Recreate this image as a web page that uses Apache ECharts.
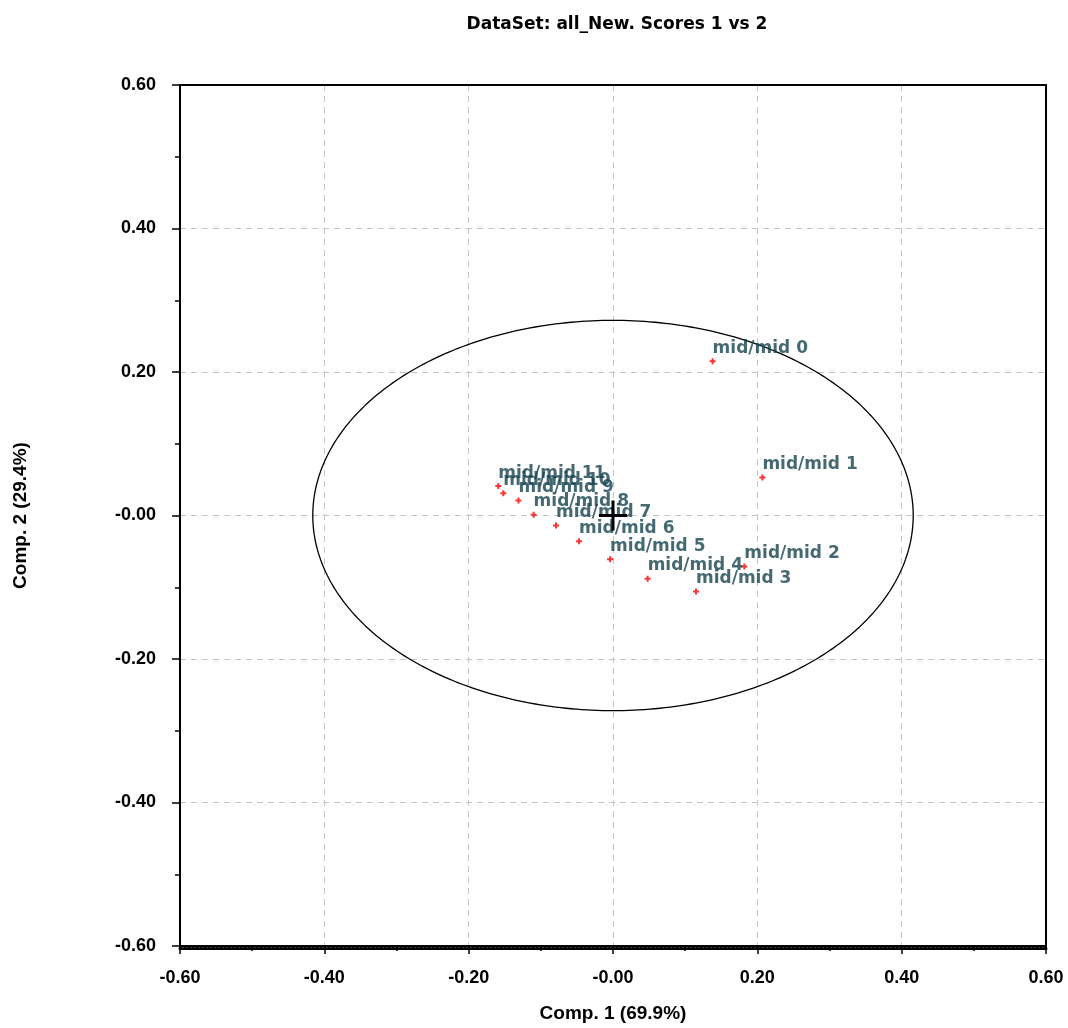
<!DOCTYPE html>
<html>
<head>
<meta charset="utf-8">
<script src="https://cdn.jsdelivr.net/npm/echarts@6/dist/echarts.min.js"></script>
<style>
html,body{margin:0;padding:0;background:#fff;}
#chart{width:1068px;height:1028px;}
</style>
</head>
<body>
<div id="chart"></div>
<script>
// ---- data ----
var sampleNames = ['mid/mid 0','mid/mid 1','mid/mid 2','mid/mid 3','mid/mid 4','mid/mid 5','mid/mid 6','mid/mid 7','mid/mid 8','mid/mid 9','mid/mid 10','mid/mid 11'];
var comp1 = [0.138, 0.207, 0.182, 0.115, 0.048, -0.004, -0.047, -0.079, -0.110, -0.131, -0.152, -0.159];
var comp2 = [0.215, 0.053, -0.071, -0.106, -0.088, -0.061, -0.036, -0.014, 0.001, 0.021, 0.031, 0.041];
var tickValues = [-0.6, -0.4, -0.2, 0, 0.2, 0.4, 0.6];
var tickLabels = ['-0.60', '-0.40', '-0.20', '-0.00', '0.20', '0.40', '0.60'];
var ellipseCenter = [0, 0];
var ellipseRadii = [0.416, 0.272];
var centerMark = [0, 0];
var titleText = 'DataSet: all_New. Scores 1 vs 2';
var xName = 'Comp. 1 (69.9%)';
var yName = 'Comp. 2 (29.4%)';

function tickFmt(v) {
  for (var i = 0; i < tickValues.length; i++) {
    if (Math.abs(tickValues[i] - v) < 1e-9) return tickLabels[i];
  }
  return '';
}

var pointData = sampleNames.map(function (n, i) {
  return { name: n, value: [comp1[i], comp2[i]] };
});

var chart = echarts.init(document.getElementById('chart'), null, { renderer: 'canvas' });

var axisLabelStyle = { fontFamily: 'Liberation Sans, Arial, sans-serif', fontWeight: 'bold', fontSize: 18, color: '#000' };
var nameStyle = { fontFamily: 'Liberation Sans, Arial, sans-serif', fontWeight: 'bold', fontSize: 19, color: '#000' };
var gridLine = { show: true, lineStyle: { color: '#c4c4c4', type: [6, 5], width: 1 } };

function borderAxis(pos, extra) {
  var a = {
    type: 'value', min: -0.6, max: 0.6, interval: 0.2, position: pos,
    axisLine: { show: true, onZero: false, lineStyle: { color: '#000', width: 2 } },
    axisTick: { show: false }, axisLabel: { show: false }, splitLine: { show: false }
  };
  for (var k in extra) a[k] = extra[k];
  return a;
}

var option = {
  backgroundColor: '#fff',
  animation: false,
  title: {
    text: titleText, left: 612, top: 11, textAlign: 'center',
    textStyle: { fontFamily: 'DejaVu Sans, sans-serif', fontWeight: 'bold', fontSize: 17, color: '#000' }
  },
  grid: { left: 180, right: 22, top: 85, bottom: 77, containLabel: false },
  xAxis: [
    {
      type: 'value', min: -0.6, max: 0.6, interval: 0.2, position: 'bottom',
      name: xName, nameLocation: 'middle', nameGap: 58, nameTextStyle: nameStyle,
      axisLine: { show: true, onZero: false, lineStyle: { color: '#000', width: 2 } },
      axisTick: { show: true, length: 8, lineStyle: { color: '#000', width: 1.5 } },
      minorTick: { show: true, splitNumber: 2, length: 5, lineStyle: { color: '#000', width: 1.5 } },
      axisLabel: Object.assign({ margin: 23, formatter: tickFmt }, axisLabelStyle),
      splitLine: gridLine
    },
    borderAxis('top', {}),
    borderAxis('bottom', { offset: 2, axisLine: { show: true, onZero: false, lineStyle: { color: '#000', width: 3, type: [2, 2] } } })
  ],
  yAxis: [
    {
      type: 'value', min: -0.6, max: 0.6, interval: 0.2, position: 'left',
      name: yName, nameLocation: 'middle', nameGap: 150, nameRotate: 90, nameTextStyle: nameStyle,
      axisLine: { show: true, onZero: false, lineStyle: { color: '#000', width: 2 } },
      axisTick: { show: true, length: 8, lineStyle: { color: '#000', width: 1.5 } },
      minorTick: { show: true, splitNumber: 2, length: 5, lineStyle: { color: '#000', width: 1.5 } },
      axisLabel: Object.assign({ margin: 24, formatter: tickFmt }, axisLabelStyle),
      splitLine: gridLine
    },
    borderAxis('right', {})
  ],
  series: [
    {
      type: 'custom',
      xAxisIndex: 0, yAxisIndex: 0,
      silent: true,
      data: [[ellipseCenter[0], ellipseCenter[1], ellipseRadii[0], ellipseRadii[1]]],
      renderItem: function (params, api) {
        var cx = api.value(0), cy = api.value(1), rx = api.value(2), ry = api.value(3);
        var pts = [];
        for (var k = 0; k <= 360; k++) {
          var t = k * Math.PI / 180;
          pts.push(api.coord([cx + rx * Math.cos(t), cy + ry * Math.sin(t)]));
        }
        return { type: 'polyline', shape: { points: pts }, style: { stroke: '#000', lineWidth: 1.3, fill: null } };
      },
      z: 3
    },
    {
      type: 'custom',
      xAxisIndex: 0, yAxisIndex: 0,
      silent: true,
      data: [centerMark],
      renderItem: function (params, api) {
        var p = api.coord([api.value(0), api.value(1)]);
        return {
          type: 'group',
          children: [
            { type: 'line', shape: { x1: p[0] - 14, y1: p[1], x2: p[0] + 14, y2: p[1] }, style: { stroke: '#000', lineWidth: 3 } },
            { type: 'line', shape: { x1: p[0], y1: p[1] - 15, x2: p[0], y2: p[1] + 15 }, style: { stroke: '#000', lineWidth: 3 } }
          ]
        };
      },
      z: 6
    },
    {
      type: 'scatter',
      xAxisIndex: 0, yAxisIndex: 0,
      data: pointData,
      symbol: 'path://M2,0H4V2H6V4H4V6H2V4H0V2H2Z',
      symbolSize: 6,
      itemStyle: { color: '#ff0000' },
      label: {
        show: true,
        formatter: function (p) { return p.name; },
        position: [3, -10],
        align: 'left',
        verticalAlign: 'middle',
        fontFamily: 'DejaVu Sans, sans-serif',
        fontWeight: 'bold',
        fontSize: 17,
        color: '#17434f'
      },
      z: 5
    }
  ]
};

chart.setOption(option);
</script>
</body>
</html>
